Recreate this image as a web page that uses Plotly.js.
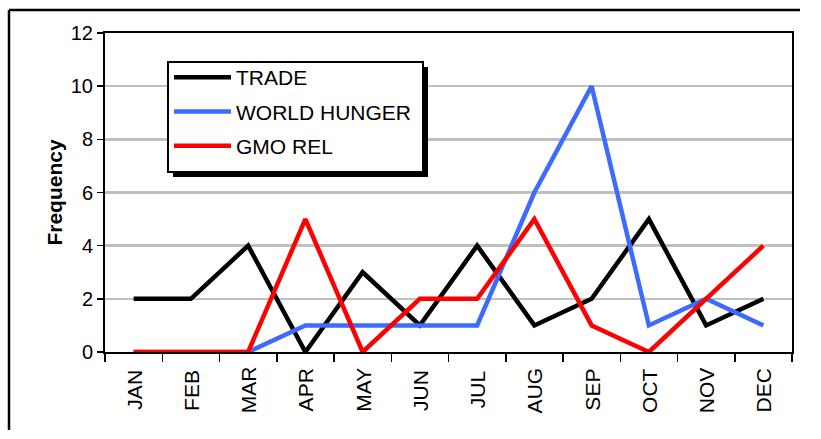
<!DOCTYPE html>
<html>
<head>
<meta charset="utf-8">
<script src="https://cdn.plot.ly/plotly-3.0.1.min.js"></script>
<style>
html,body{margin:0;padding:0;background:#fff;overflow:hidden;}
#chart{width:821px;height:439px;}
</style>
</head>
<body>
<div id="chart"></div>
<script>
var months = ["JAN","FEB","MAR","APR","MAY","JUN","JUL","AUG","SEP","OCT","NOV","DEC"];
var trade = [2,2,4,0,3,1,4,1,2,5,1,2];
var worldHunger = [0,0,0,1,1,1,1,6,10,1,2,1];
var gmoRel = [0,0,0,5,0,2,2,5,1,0,2,4];
var yTicks = [0,2,4,6,8,10,12];

var L = 105, R = 792, T = 33, B = 352, W = 821, H = 439;
function px(x){ return (x - L) / (R - L); }
function py(y){ return 1 - (y - T) / (B - T); }

var font = "Arial, 'Liberation Sans', sans-serif";

function mk(name, y, color, g){
  return {x: months, y: y, name: name, type: 'scatter', mode: 'lines',
    legendgroup: g, line: {color: color, width: 4.5}, cliponaxis: false};
}
var data = [
  mk('TRADE', trade, '#000000', 'a'),
  mk('WORLD HUNGER', worldHunger, '#3D6BFF', 'b'),
  mk('GMO REL', gmoRel, '#FF0000', 'c')
];

var annotations = months.map(function(m){
  return {x: m, xref: 'x', y: py(390), yref: 'paper', text: m, showarrow: false,
    textangle: -90, xanchor: 'center', yanchor: 'middle',
    font: {family: font, size: 21, color: '#000'}};
});

var layout = {
  width: W, height: H,
  margin: {l: L, r: W - R, t: T, b: H - B, pad: 0},
  paper_bgcolor: '#fff', plot_bgcolor: '#fff',
  showlegend: true,
  legend: {x: px(169), y: py(57), xanchor: 'left', yanchor: 'top',
    bgcolor: 'rgba(0,0,0,0)', borderwidth: 0,
    font: {family: font, size: 21, color: '#000'},
    itemwidth: 57, tracegroupgap: 4, traceorder: 'grouped'},
  xaxis: {type: 'category', range: [-0.5, 11.5], showgrid: false,
    showline: true, linecolor: '#000', linewidth: 2, mirror: true,
    ticks: 'outside', tickson: 'boundaries', ticklen: 8, tickcolor: '#000', tickwidth: 1.5,
    showticklabels: false, zeroline: false, fixedrange: true},
  yaxis: {range: [0, 12], tickvals: yTicks, ticktext: yTicks.map(String),
    showgrid: true, gridcolor: '#C0C0C0', gridwidth: 2.5,
    showline: true, linecolor: '#000', linewidth: 2, mirror: true,
    ticks: 'outside', ticklen: 6, tickcolor: '#000', tickwidth: 1.5,
    zeroline: false, automargin: false,
    tickfont: {family: font, size: 20, color: '#000'},
    title: {text: 'Frequency', standoff: 2, font: {family: font, size: 21, color: '#000', weight: 'bold'}}},
  annotations: annotations,
  shapes: [
    {type: 'line', xref: 'paper', yref: 'paper', x0: px(9), x1: px(9), y0: py(430), y1: py(10),
     line: {color: '#000', width: 2.5}, layer: 'below'},
    {type: 'line', xref: 'paper', yref: 'paper', x0: px(9), x1: px(800), y0: py(10), y1: py(10),
     line: {color: '#000', width: 2.5}, layer: 'below'},
    {type: 'rect', xref: 'paper', yref: 'paper', x0: px(173), x1: px(428), y0: py(177), y1: py(67),
     line: {width: 0}, fillcolor: '#000', layer: 'above'},
    {type: 'rect', xref: 'paper', yref: 'paper', x0: px(168), x1: px(423), y0: py(172), y1: py(62),
     line: {color: '#000', width: 2}, fillcolor: '#fff', layer: 'above'}
  ]
};

Plotly.newPlot('chart', data, layout, {staticPlot: true, displayModeBar: false});
</script>
</body>
</html>
